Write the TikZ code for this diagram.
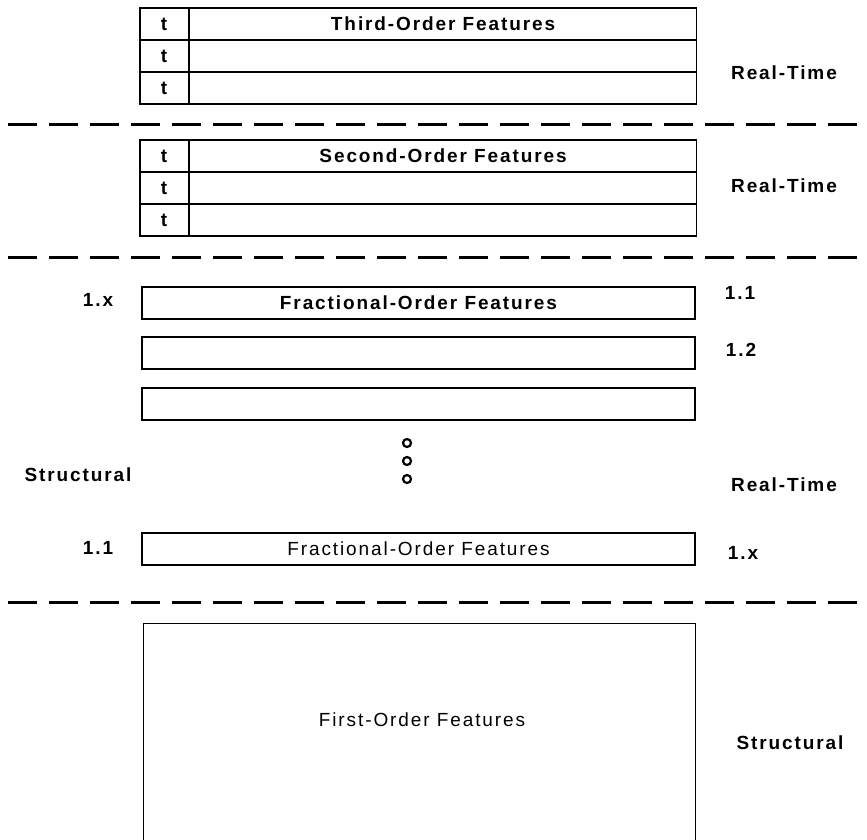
\documentclass[tikz,border=0pt]{standalone}
\usepackage{fontspec}
\setmainfont{Liberation Sans}[LetterSpace=10]
\usetikzlibrary{shapes,positioning}

\begin{document}
\begin{tikzpicture}[x=1pt,y=-1pt]
\tikzstyle{every node}=[font=\fontsize{19}{22}\selectfont]
\tikzstyle{trow}=[rectangle split, rectangle split horizontal, rectangle split parts=2, draw, line width=1.6pt, inner sep=0pt, outer sep=0pt, minimum height=32pt, font=\fontsize{19}{22}\selectfont\bfseries]
\tikzstyle{frac}=[draw, line width=1.6pt, minimum width=553pt, minimum height=32pt, inner sep=0pt, outer sep=0pt]
\tikzstyle{side}=[font=\fontsize{19}{22}\selectfont\bfseries]
\tikzstyle{sep}=[line width=3pt, dash pattern=on 29pt off 12pt]
\tikzstyle{dot}=[circle, draw, line width=2.2pt, minimum size=8pt, inner sep=0pt]
\useasboundingbox (0,0) rectangle (867,839);

% third order
\node[trow, anchor=north west] (third1) at (140,8) {\makebox[48pt]{t}\nodepart{two}\makebox[507pt]{Third-Order Features}};
\node[trow, below=0pt of third1] (third2) {\makebox[48pt]{t}\nodepart{two}\makebox[507pt]{}};
\node[trow, below=0pt of third2] (third3) {\makebox[48pt]{t}\nodepart{two}\makebox[507pt]{}};
\node[side] (rt3) at (784,73) {Real-Time};
\draw[sep] (8,124) -- (867,124);

% second order
\node[trow, anchor=north west] (second1) at (140,140) {\makebox[48pt]{t}\nodepart{two}\makebox[507pt]{Second-Order Features}};
\node[trow, below=0pt of second1] (second2) {\makebox[48pt]{t}\nodepart{two}\makebox[507pt]{}};
\node[trow, below=0pt of second2] (second3) {\makebox[48pt]{t}\nodepart{two}\makebox[507pt]{}};
\node[side] (rt2) at (784,186) {Real-Time};
\draw[sep] (8,257) -- (867,257);

% fractional orders
\node[frac, anchor=north west, font=\fontsize{19}{22}\selectfont\bfseries] (frac1) at (142,287) {Fractional-Order Features};
\node[frac, below=18pt of frac1] (frac2) {};
\node[frac, below=19pt of frac2] (frac3) {};
\foreach \y [count=\i] in {443,461,479}
  \node[dot] (dot\i) at (407,\y) {};
\node[frac, anchor=north west] (frac4) at (142,533) {Fractional-Order Features};
\node[side] (fx1) at (98,300) {1.x};
\node[side] (f11) at (740,293) {1.1};
\node[side] (f12) at (741,350) {1.2};
\node[side] (st1) at (78,475) {Structural};
\node[side] (rt1) at (784,485) {Real-Time};
\node[side] (f11b) at (98,548) {1.1};
\node[side] (fxb) at (743,553) {1.x};
\draw[sep] (8,602) -- (867,602);

% first order
\node[draw, line width=1.2pt, minimum width=552pt, minimum height=260pt, anchor=north west] (first) at (143,623) {};
\node (firstlbl) at (422,720) {First-Order Features};
\node[side] (st0) at (790,743) {Structural};
\end{tikzpicture}
\end{document}
